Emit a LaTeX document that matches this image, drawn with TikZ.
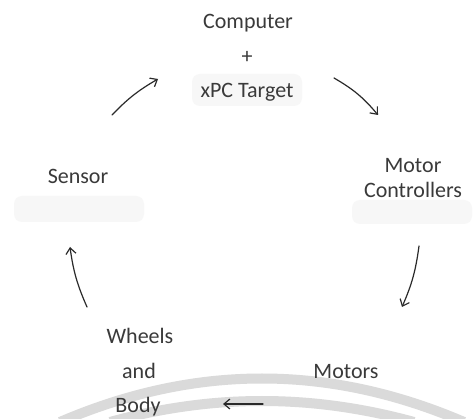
\documentclass[tikz,border=0pt]{standalone}
\usepackage{fontspec}
\setmainfont{Carlito}
\usetikzlibrary{arrows.meta}
\definecolor{ink}{HTML}{3A3A3A}
\definecolor{pen}{HTML}{2A2A2A}
\definecolor{band}{HTML}{DADADA}
\definecolor{haze}{HTML}{F7F7F7}
\tikzset{
  lbl/.style={text=ink, font=\fontsize{22}{26}\selectfont, inner sep=0pt, anchor=center},
  flow/.style={draw=pen, line width=1.2pt, line cap=round,
    -{Straight Barb[length=6pt, width=10pt, line width=1.2pt]}},
  arcband/.style={draw=band, line width=10pt},
  smudge/.style={fill=haze, draw=none, rounded corners=8pt}
}
\begin{document}
\begin{tikzpicture}[x=1pt, y=-1pt]
  \useasboundingbox (0,0) rectangle (474,419);
  \fill[white] (0,0) rectangle (474,419);

  % faint grainy patches under some labels
  \path[smudge] (192,74) rectangle (302,106);
  \path[smudge] (14,196) rectangle (144,222);
  \path[smudge] (352,200) rectangle (472,224);

  % two pale arcs along the bottom edge
  \draw[arcband] (60,422) .. controls (195,364) and (329,364) .. (464,422);
  \draw[arcband] (110,422) .. controls (212,394) and (312,394) .. (414,422);

  % labels
  \node[lbl] (computer) at (248,23) {Computer};
  \node[lbl] (plus)     at (247,57) {+};
  \node[lbl] (xpc)      at (247,92) {xPC Target};
  \node[lbl] (motor)    at (413,166) {Motor};
  \node[lbl] (ctrl)     at (413,190) {Controllers};
  \node[lbl] (motors)   at (346,372) {Motors};
  \node[lbl] (wheels)   at (140,336) {Wheels};
  \node[lbl] (and)      at (139,371) {and};
  \node[lbl] (body)     at (138,407) {Body};
  \node[lbl] (sensor)   at (78,176) {Sensor};

  % arrow end points
  \coordinate (a1s) at (112,115); \coordinate (a1e) at (158,79);
  \coordinate (a2s) at (334,78);  \coordinate (a2e) at (378,115);
  \coordinate (a3s) at (419,246); \coordinate (a3e) at (402,307);
  \coordinate (a4s) at (263,404); \coordinate (a4e) at (223,404);
  \coordinate (a5s) at (87,307);  \coordinate (a5e) at (70,247);

  % cycle arrows
  \draw[flow] (a1s) to[bend left=8] (a1e);
  \draw[flow] (a2s) to[bend left=10] (a2e);
  \draw[flow] (a3s) to[bend left=8] (a3e);
  \draw[flow] (a4s) -- (a4e);
  \draw[flow] (a5s) to[bend left=8] (a5e);
\end{tikzpicture}
\end{document}
